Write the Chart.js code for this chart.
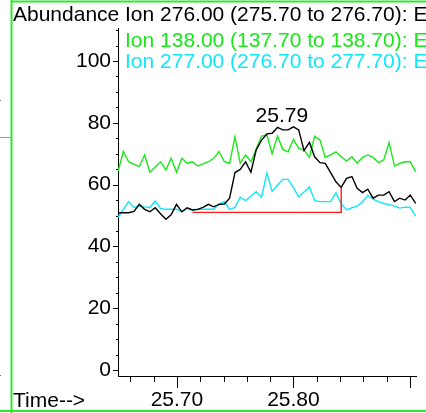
<!DOCTYPE html>
<html>
<head>
<meta charset="utf-8">
<script src="https://cdn.jsdelivr.net/npm/chart.js@4.4.1/dist/chart.umd.min.js"></script>
<style>
  html, body { margin: 0; padding: 0; background: #fff; }
  #wrap { width: 426px; height: 413px; }
</style>
</head>
<body>
<div id="wrap"><canvas id="chart" width="426" height="413"></canvas></div>
<script>
// scan times (min)
const times = [
  25.6494, 25.6540, 25.6585, 25.6631, 25.6677, 25.6722, 25.6768, 25.6813, 25.6859, 25.6905,
  25.6950, 25.6996, 25.7042, 25.7087, 25.7133, 25.7178, 25.7224, 25.7270, 25.7315, 25.7361,
  25.7407, 25.7452, 25.7498, 25.7543, 25.7589, 25.7635, 25.7680, 25.7726, 25.7772, 25.7817,
  25.7863, 25.7908, 25.7954, 25.8000, 25.8045, 25.8091, 25.8137, 25.8182, 25.8228, 25.8273,
  25.8319, 25.8365, 25.8410, 25.8456, 25.8502, 25.8547, 25.8593, 25.8638, 25.8684, 25.8730,
  25.8775, 25.8821, 25.8867, 25.8912, 25.8958, 25.9003, 25.9049
];

// extracted ion abundances
const ion276 = [
  50.9, 50.9, 50.9, 51.3, 53.6, 52.0, 51.2, 52.5, 50.6, 48.8,
  50.2, 53.6, 51.2, 52.5, 51.8, 52.0, 52.6, 53.6, 52.8, 53.6,
  53.7, 55.6, 63.9, 64.9, 67.4, 64.0, 71.2, 74.4, 76.4, 76.6,
  78.5, 77.7, 77.7, 78.7, 77.7, 71.0, 73.7, 69.0, 67.1, 66.9,
  63.9, 60.9, 59.1, 62.0, 62.6, 58.8, 57.4, 58.5, 55.6, 56.6,
  56.6, 57.7, 54.5, 55.6, 55.0, 56.6, 53.9
];
const ion138 = [
  64.2, 70.7, 67.4, 66.6, 65.8, 69.6, 64.0, 65.7, 67.4, 64.7,
  68.5, 64.0, 68.5, 66.9, 67.4, 66.0, 66.7, 67.4, 68.5, 70.7,
  67.4, 66.9, 75.5, 66.9, 69.6, 67.4, 71.5, 75.7, 76.0, 70.0,
  75.7, 71.4, 70.6, 74.6, 71.7, 71.2, 68.8, 75.7, 74.4, 68.8,
  69.6, 70.6, 69.0, 67.6, 69.0, 66.9, 68.8, 69.6, 68.8, 67.1,
  68.0, 73.6, 66.0, 66.9, 67.4, 67.4, 64.2
];
const ion277 = [
  49.4, 52.0, 54.5, 52.6, 53.1, 52.8, 52.6, 54.7, 52.3, 52.0,
  52.0, 52.0, 51.2, 52.3, 51.8, 52.0, 52.0, 52.0, 52.0, 53.7,
  54.5, 52.0, 52.6, 55.9, 54.8, 56.3, 57.7, 55.9, 63.7, 57.8,
  59.8, 61.7, 61.7, 59.0, 56.0, 57.6, 59.2, 54.8, 54.5, 54.5,
  54.5, 57.4, 53.7, 51.9, 52.5, 53.0, 54.4, 56.5, 55.3, 54.5,
  53.9, 53.5, 53.1, 52.4, 52.7, 52.6, 49.8
];

// integration baseline of the 276 peak
const baselineTimes = [25.7133, 25.8410, 25.8410];
const baselineValues = [51.0, 51.0, 59.1];
const peakTime = 25.79;

const yTickLabels = [0, 20, 40, 60, 80, 100];
const yTickMarks = [0, 5, 10, 15, 20, 25, 30, 35, 40, 45, 50, 55, 60, 65, 70, 75, 80, 85, 90, 95, 100, 105, 110];
const xTickLabels = [25.70, 25.80];
const xTickMarks = [25.66, 25.68, 25.70, 25.72, 25.74, 25.76, 25.78, 25.80, 25.82, 25.84, 25.86, 25.88, 25.90];
const xMajorMarks = [25.70, 25.80, 25.90];

const legendTexts = [
  'Ion 276.00 (275.70 to 276.70): E',
  'Ion 138.00 (137.70 to 138.70): E',
  'Ion 277.00 (276.70 to 277.70): E'
];

const BLACK = '#000000';
const GREEN = '#18e818';
const CYAN = '#10e8f8';
const RED = '#ff1a1a';
const FRAME = '#2ee82e';
const FAMILY = '"Liberation Sans", Arial, sans-serif';
const FONT_SIZE = 21;

const pts = (xs, ys) => xs.map((t, i) => ({ x: t, y: ys[i] }));

const decorations = {
  id: 'decorations',
  beforeDraw(chart) {
    const ctx = chart.ctx;
    ctx.save();
    ctx.fillStyle = '#fff';
    ctx.fillRect(0, 0, chart.width, chart.height);
    // window frame
    ctx.strokeStyle = FRAME;
    ctx.lineWidth = 2;
    ctx.beginPath();
    ctx.moveTo(11.5, 0); ctx.lineTo(11.5, 413);
    ctx.moveTo(11, 1.5); ctx.lineTo(426, 1.5);
    ctx.moveTo(0, 411); ctx.lineTo(426, 411);
    ctx.stroke();
    ctx.lineWidth = 1;
    ctx.beginPath();
    ctx.moveTo(0, 137.5); ctx.lineTo(11, 137.5);
    ctx.stroke();
    ctx.fillStyle = '#777';
    ctx.fillRect(0, 100, 1, 1);
    ctx.fillRect(0, 375, 1, 1);
    ctx.restore();
  },
  afterDraw(chart) {
    const { ctx, scales: { x, y } } = chart;
    ctx.save();
    // tick marks
    ctx.strokeStyle = BLACK;
    ctx.lineWidth = 1;
    ctx.beginPath();
    yTickMarks.forEach(v => {
      const py = Math.round(y.getPixelForValue(v)) + 0.5;
      const len = v % 20 === 0 ? 5 : 2;
      ctx.moveTo(x.left - len, py);
      ctx.lineTo(x.left, py);
    });
    xTickMarks.forEach(v => {
      const px = Math.round(x.getPixelForValue(v)) + 0.5;
      const major = xMajorMarks.some(m => Math.abs(m - v) < 1e-6);
      ctx.moveTo(px, y.bottom);
      ctx.lineTo(px, y.bottom + (major ? 12 : 6));
    });
    ctx.stroke();

    // titles and ion legend
    ctx.font = FONT_SIZE + 'px ' + FAMILY;
    ctx.textBaseline = 'alphabetic';
    ctx.textAlign = 'left';
    ctx.fillStyle = BLACK;
    ctx.fillText('Abundance', 13, 21);
    ctx.fillText('Time-->', 13, 407);
    const rows = [21, 47, 68];
    const colors = [BLACK, GREEN, CYAN];
    legendTexts.forEach((txt, i) => {
      ctx.fillStyle = colors[i];
      ctx.fillText(txt, 125, rows[i]);
    });

    // retention time over the peak
    const top = Math.max(...ion276);
    ctx.fillStyle = BLACK;
    ctx.textAlign = 'center';
    ctx.fillText(peakTime.toFixed(2), x.getPixelForValue(peakTime), y.getPixelForValue(top) - 5);
    ctx.restore();
  }
};

new Chart(document.getElementById('chart'), {
  type: 'line',
  data: {
    datasets: [
      { label: 'Ion 276.00', data: pts(times, ion276), borderColor: BLACK, borderWidth: 1.4 },
      { label: 'baseline', data: pts(baselineTimes, baselineValues), borderColor: RED, borderWidth: 1.4 },
      { label: 'Ion 277.00', data: pts(times, ion277), borderColor: CYAN, borderWidth: 1.4 },
      { label: 'Ion 138.00', data: pts(times, ion138), borderColor: GREEN, borderWidth: 1.4 }
    ]
  },
  options: {
    responsive: false,
    animation: false,
    layout: { padding: { top: 28, right: 10, left: 0, bottom: 0 } },
    elements: { point: { radius: 0 }, line: { tension: 0, fill: false } },
    plugins: { legend: { display: false }, tooltip: { enabled: false } },
    scales: {
      x: {
        type: 'linear',
        min: 25.6494,
        max: 25.9052,
        afterFit: s => { s.height = 37; },
        afterBuildTicks: s => { s.ticks = xTickLabels.map(v => ({ value: v })); },
        ticks: {
          font: { family: FAMILY, size: FONT_SIZE },
          color: BLACK,
          padding: 12,
          maxRotation: 0,
          autoSkip: false,
          callback: v => v.toFixed(2)
        },
        grid: { drawOnChartArea: false, drawTicks: false },
        border: { color: BLACK, width: 1 }
      },
      y: {
        min: -1.94,
        max: 110.68,
        afterFit: s => { s.width = 118; },
        afterBuildTicks: s => { s.ticks = yTickLabels.map(v => ({ value: v })); },
        ticks: {
          font: { family: FAMILY, size: FONT_SIZE },
          color: BLACK,
          padding: 7
        },
        grid: { drawOnChartArea: false, drawTicks: false },
        border: { color: BLACK, width: 1 }
      }
    }
  },
  plugins: [decorations]
});
</script>
</body>
</html>
